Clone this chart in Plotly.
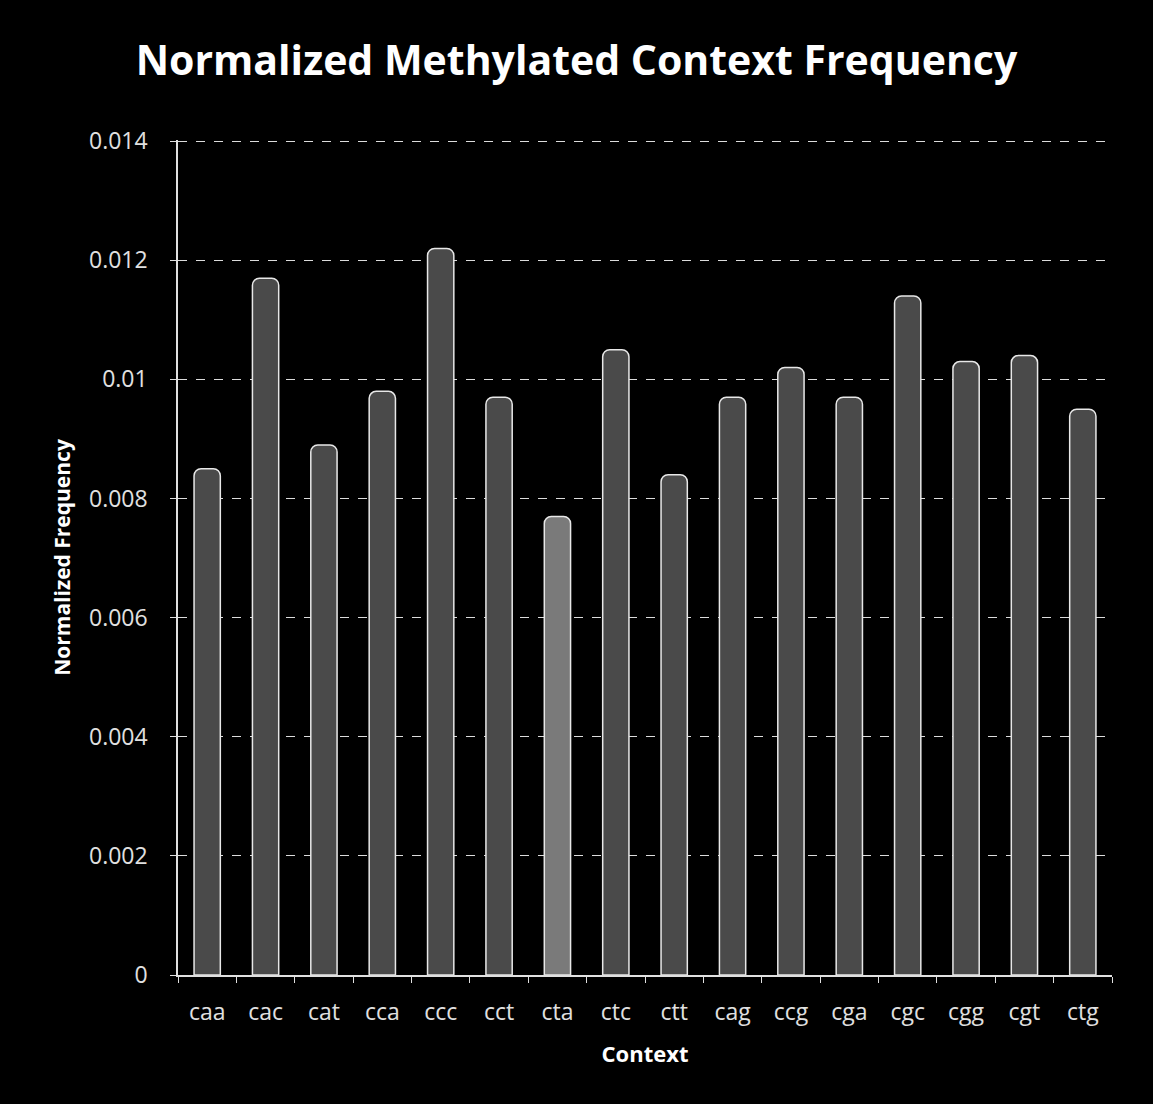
import plotly.graph_objects as go

contexts = ["caa", "cac", "cat", "cca", "ccc", "cct", "cta", "ctc",
            "ctt", "cag", "ccg", "cga", "cgc", "cgg", "cgt", "ctg"]
frequency = [0.0085, 0.0117, 0.0089, 0.0098, 0.0122, 0.0097, 0.0077, 0.0105,
             0.0084, 0.0097, 0.0102, 0.0097, 0.0114, 0.0103, 0.0104, 0.0095]
y_ticks = [0, 0.002, 0.004, 0.006, 0.008, 0.01, 0.012, 0.014]
y_tick_labels = ["0", "0.002", "0.004", "0.006", "0.008", "0.01", "0.012", "0.014"]

bar_colors = ["#7a7a7a" if c == "cta" else "#4a4a4a" for c in contexts]

fig = go.Figure(go.Bar(
    x=contexts, y=frequency,
    marker=dict(color=bar_colors, line=dict(color="#e8e8e8", width=1.5),
                cornerradius=7),
    width=0.45,
))

fig.update_layout(
    width=1153, height=1104,
    paper_bgcolor="black", plot_bgcolor="black",
    margin=dict(l=178, r=41, t=140, b=129),
    title=dict(text="<b>Normalized Methylated Context Frequency</b>",
               x=0.5, xanchor="center", y=0.945, yanchor="middle",
               font=dict(family="Open Sans", size=41, color="white")),
    showlegend=False,
    font=dict(family="Open Sans", color="#e0e0e0"),
)
fig.update_xaxes(
    showline=True, linecolor="#e0e0e0", linewidth=1.5,
    ticks="outside", tickson="boundaries", ticklen=6, tickcolor="#e0e0e0",
    ticklabelstandoff=16,
    tickfont=dict(size=23, color="#e0e0e0", family="Open Sans"),
    title=dict(text="<b>Context</b>", font=dict(size=22, color="white", family="Open Sans"), standoff=20),
    showgrid=False,
)
fig.update_yaxes(
    range=[0, 0.01402], tickvals=y_ticks, ticktext=y_tick_labels,
    showline=True, linecolor="#e0e0e0", linewidth=1.5,
    ticks="outside", ticklen=6, tickcolor="#e0e0e0",
    ticklabelstandoff=18,
    tickfont=dict(size=23, color="#e0e0e0", family="Open Sans"),
    showgrid=True, gridcolor="#dcdcdc", griddash="dash", gridwidth=1.2,
    zeroline=False,
    title=dict(text="<b>Normalized Frequency</b>", font=dict(size=21, color="white", family="Open Sans"), standoff=13),
)

fig.write_html("out.html")
